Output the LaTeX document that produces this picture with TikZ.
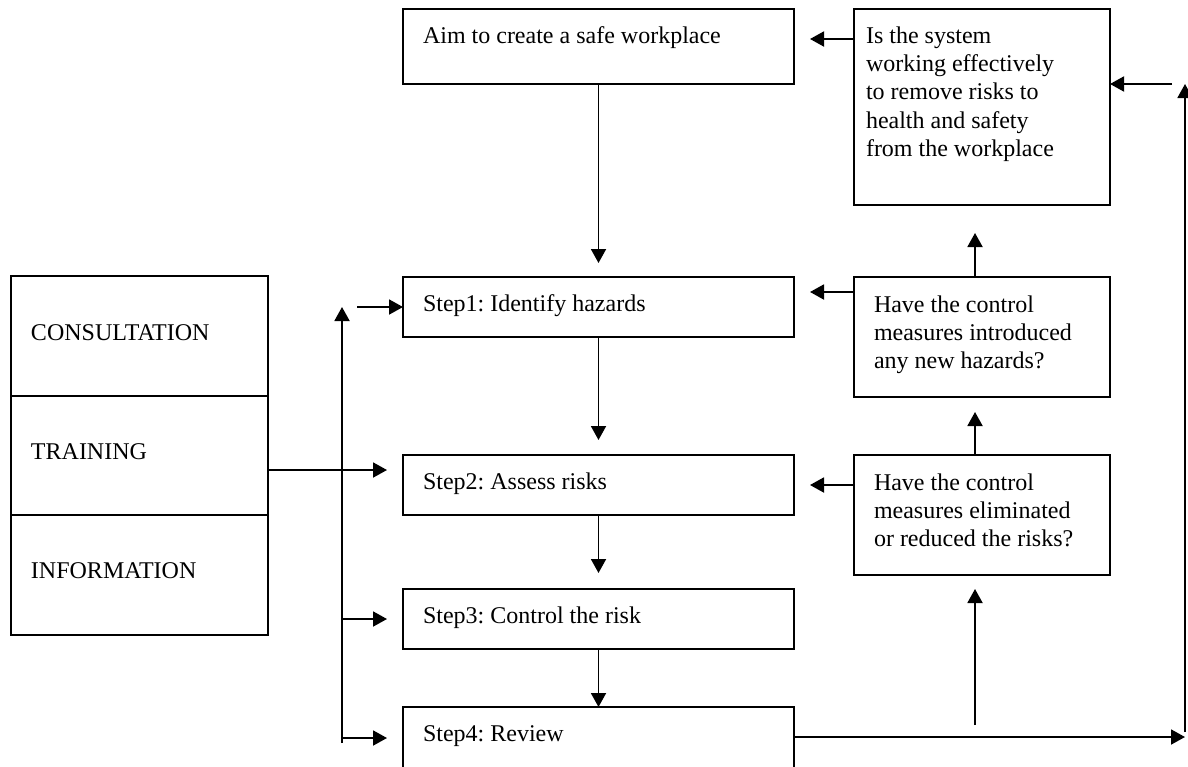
\documentclass[tikz,border=0pt]{standalone}
\usepackage{fontspec}
\setmainfont{Liberation Serif}
\frenchspacing
\usetikzlibrary{arrows.meta,calc}
\begin{document}
\frenchspacing
\begin{tikzpicture}[x=0.5pt,y=-0.5pt,
  box/.style={draw,line width=0.95pt,inner sep=0pt,outer sep=0pt},
  txt/.style={inner sep=0pt,outer sep=0pt,anchor=north west,align=left,
    font=\fontsize{12pt}{14.2pt}\selectfont},
  arr/.style={line width=0.95pt,-{Triangle[length=7pt,width=7.5pt]}}]
\useasboundingbox (0,0) rectangle (1188,766);
% boxes
\node[box,minimum width=195.5pt,minimum height=37.5pt,anchor=north west] (aim) at (403,9) {};
\node[box,minimum width=128pt,minimum height=98pt,anchor=north west] (sys) at (854,9) {};
\node[box,minimum width=195.5pt,minimum height=30pt,anchor=north west] (s1) at (403,277) {};
\node[box,minimum width=195.5pt,minimum height=30pt,anchor=north west] (s2) at (403,455) {};
\node[box,minimum width=195.5pt,minimum height=30pt,anchor=north west] (s3) at (403,589) {};
\node[box,minimum width=195.5pt,minimum height=31.5pt,anchor=north west] (s4) at (403,707) {};
\node[box,minimum width=128pt,minimum height=60pt,anchor=north west] (haz) at (854,277) {};
\node[box,minimum width=128pt,minimum height=60pt,anchor=north west] (elim) at (854,455) {};
\node[box,minimum width=128.5pt,minimum height=60pt,anchor=north west] (cons) at (11,276) {};
\node[box,minimum width=128.5pt,minimum height=59.5pt,anchor=north west] (train) at (11,396) {};
\node[box,minimum width=128.5pt,minimum height=60pt,anchor=north west] (info) at (11,515) {};
% texts
\node[txt] (taim) at (423,25) {\rule{0pt}{9pt}Aim to create a safe workplace};
\node[txt] (tsys) at (866,25) {\rule{0pt}{9pt}Is the system\\working effectively\\to remove risks to\\health and safety\\from the workplace};
\node[txt] (ts1) at (423,293) {\rule{0pt}{9pt}Step1: Identify hazards};
\node[txt] (ts2) at (423,471) {\rule{0pt}{9pt}Step2: Assess risks};
\node[txt] (ts3) at (423,605) {\rule{0pt}{9pt}Step3: Control the risk};
\node[txt] (ts4) at (423,723) {\rule{0pt}{9pt}Step4: Review};
\node[txt] (thaz) at (874,294) {\rule{0pt}{9pt}Have the control\\measures introduced\\any new hazards?};
\node[txt] (telim) at (874,472) {\rule{0pt}{9pt}Have the control\\measures eliminated\\or reduced the risks?};
\node[txt] (tcons) at (31,322) {\rule{0pt}{9pt}CONSULTATION};
\node[txt] (ttrain) at (31,441) {\rule{0pt}{9pt}TRAINING};
\node[txt] (tinfo) at (31,560) {\rule{0pt}{9pt}INFORMATION};
% coordinates
\coordinate (vb) at (342,743);
\coordinate (vt) at (342,307);
\coordinate (h1) at (357,307);
\coordinate (rb) at (1185,732);
\coordinate (rt) at (1185,84);
\coordinate (re) at (1172,84);
\coordinate (ub) at (975,725);
\coordinate (r4) at (1185,737);
% main flow
\draw[arr,shorten >=7pt] (aim.south) -- (s1.north);
\draw[arr,shorten >=7.5pt] (s1.south) -- (s2.north);
\draw[arr,shorten >=8pt] (s2.south) -- (s3.north);
\draw[arr] (s3.south) -- (s4.north);
% feedback
\draw[arr,shorten >=8pt] (sys.west |- 0,39) -- (aim.east |- 0,39);
\draw[arr,shorten >=8pt] (haz.west |- 0,292) -- (s1.east |- 0,292);
\draw[arr,shorten >=8pt] (elim.west |- 0,485) -- (s2.east |- 0,485);
\draw[arr,shorten >=14pt] (haz.north -| ub) -- (sys.south -| ub);
\draw[arr,shorten >=7.5pt] (elim.north -| ub) -- (haz.south -| ub);
\draw[arr,shorten >=7pt] (ub) -- (elim.south -| ub);
\draw[arr] (s4.east |- 0,737) -- (r4);
\draw[arr] (rb) -- (rt);
\draw[arr] (re) -- (sys.east |- re);
% left side
\draw[arr,shorten >=8pt] (train.east |- 0,470) -- (s2.west |- 0,470);
\draw[arr] (vb) -- (vt);
\draw[arr] (h1) -- (s1.west |- h1);
\draw[arr,shorten >=8pt] (vb |- 0,619) -- (s3.west |- 0,619);
\draw[arr,shorten >=8pt] (vb |- 0,738) -- (s4.west |- 0,738);
\end{tikzpicture}
\end{document}
